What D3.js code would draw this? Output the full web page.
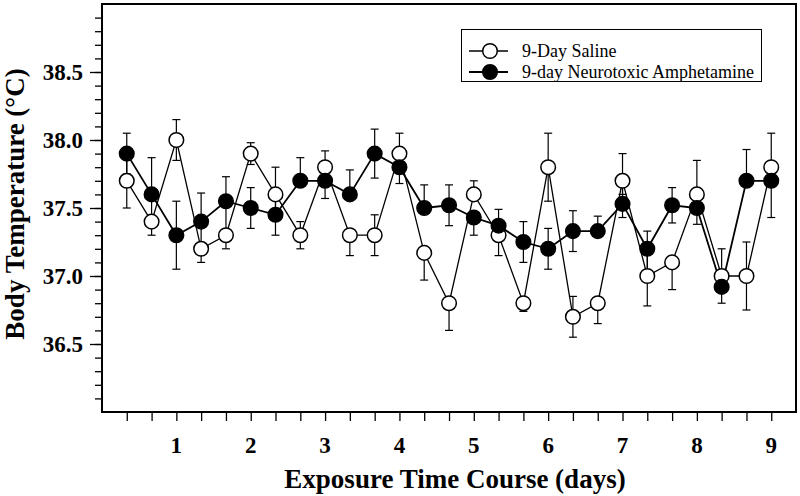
<!DOCTYPE html>
<html>
<head>
<meta charset="utf-8">
<script src="https://cdn.jsdelivr.net/npm/d3@7"></script>
<style>
  body { margin: 0; background: #fff; }
  svg { display: block; font-family: 'Liberation Serif', 'Times New Roman', serif; }
</style>
</head>
<body>
<div id="chart"></div>
<script>
// 数据 (days, mean, error up / down)
let days = [0.333, 0.667, 1, 1.333, 1.667, 2, 2.333, 2.667, 3, 3.333, 3.667, 4, 4.333, 4.667, 5,
  5.333, 5.667, 6, 6.333, 6.667, 7, 7.333, 7.667, 8, 8.333, 8.667, 9]
let salineMean = [37.70, 37.40, 38.00, 37.20, 37.30, 37.90, 37.60, 37.30, 37.80, 37.30, 37.30, 37.90, 37.17, 36.80,
  37.60, 37.30, 36.80, 37.80, 36.70, 36.80, 37.70, 37.00, 37.10, 37.60, 37.00, 37.00, 37.80]
let salineUp = [0.20, 0, 0.15, 0, 0, 0.08, 0.20, 0.10, 0.12, 0, 0.15, 0.15, 0, 0,
  0.10, 0, 0, 0.25, 0.15, 0, 0.20, 0.20, 0, 0.25, 0.20, 0.25, 0.25]
let salineDown = [0.20, 0.10, 0.15, 0.10, 0.10, 0.08, 0.15, 0.10, 0.10, 0.15, 0.15, 0.10, 0.20, 0.20,
  0, 0.15, 0.06, 0.25, 0.15, 0.15, 0.10, 0.22, 0.20, 0, 0, 0.25, 0.10]
let amphMean = [37.90, 37.60, 37.30, 37.40, 37.55, 37.50, 37.45, 37.70, 37.70, 37.60, 37.90, 37.80, 37.50, 37.52,
  37.43, 37.37, 37.25, 37.20, 37.33, 37.33, 37.53, 37.20, 37.52, 37.50, 36.92, 37.70, 37.70]
let amphUp = [0.15, 0.27, 0.25, 0.21, 0.18, 0.15, 0.15, 0.17, 0.10, 0.18, 0.18, 0.10, 0.17, 0.15,
  0, 0.12, 0.15, 0.15, 0.15, 0.11, 0.17, 0.13, 0.13, 0, 0.08, 0.23, 0.10]
let amphDown = [0.15, 0.20, 0.25, 0.20, 0.25, 0.15, 0.15, 0, 0.13, 0, 0.18, 0.12, 0, 0.15,
  0.13, 0.07, 0.15, 0.15, 0.15, 0, 0.10, 0.20, 0.13, 0.12, 0.12, 0, 0.27]
let xTickLabels = [1, 2, 3, 4, 5, 6, 7, 8, 9]
let yTickLabels = [36.5, 37.0, 37.5, 38.0, 38.5]
let seriesNames = ['9-Day Saline', '9-day Neurotoxic Amphetamine']

let width = 800
let height = 496
let margin = {left: 102, top: 4, right: 4, bottom: 84}

let x = d3.scaleLinear().domain([0, 9.333]).range([margin.left, width - margin.right])
let y = d3.scaleLinear().domain([36, 39]).range([height - margin.bottom, margin.top])

let svg = d3.select('#chart')
  .append('svg')
  .attr('width', width)
  .attr('height', height)

// 坐标轴
let xAxis = d3.axisBottom(x)
  .tickValues(days)
  .tickSize(9)
  .tickFormat('')
svg.append('g')
  .attr('transform', 'translate(0,' + y(36) + ')')
  .call(xAxis)
  .call(function (g) { g.select('.domain').remove() })
  .selectAll('line').attr('stroke', '#000').attr('stroke-width', 1.3)

svg.append('g')
  .selectAll('text')
  .data(xTickLabels)
  .enter()
  .append('text')
  .attr('x', function (d) { return x(d) })
  .attr('y', 453)
  .attr('text-anchor', 'middle')
  .attr('font-size', '23px')
  .attr('font-weight', 'bold')
  .text(function (d) { return d })

let minorY = d3.range(1, 30).map(function (i) { return 36 + i / 10 })
svg.append('g')
  .attr('transform', 'translate(' + x(0) + ',0)')
  .call(d3.axisLeft(y).tickValues(minorY).tickSize(7).tickFormat(''))
  .call(function (g) { g.select('.domain').remove() })
  .selectAll('line').attr('stroke', '#000').attr('stroke-width', 1.3)

svg.append('g')
  .attr('transform', 'translate(' + x(0) + ',0)')
  .call(d3.axisLeft(y).tickValues(yTickLabels).tickSize(12).tickPadding(7).tickFormat(d3.format('.1f')))
  .call(function (g) { g.select('.domain').remove() })
  .call(function (g) {
    g.selectAll('line').attr('stroke', '#000').attr('stroke-width', 1.3)
    g.selectAll('text')
      .attr('fill', '#000')
      .attr('font-size', '23px')
      .attr('font-weight', 'bold')
      .attr('font-family', "'Liberation Serif', serif")
  })

// 外框
svg.append('rect')
  .attr('x', x(0))
  .attr('y', y(39))
  .attr('width', x(9.333) - x(0))
  .attr('height', y(36) - y(39))
  .attr('fill', 'none')
  .attr('stroke', '#000')
  .attr('stroke-width', 2)

// 标题
svg.append('text')
  .attr('x', 455)
  .attr('y', 488)
  .attr('text-anchor', 'middle')
  .attr('font-size', '27px')
  .attr('font-weight', 'bold')
  .text('Exposure Time Course (days)')
svg.append('text')
  .attr('transform', 'translate(24,204) rotate(-90)')
  .attr('text-anchor', 'middle')
  .attr('font-size', '27px')
  .attr('font-weight', 'bold')
  .text('Body Temperature (°C)')

// 系列
let series = [
  {name: seriesNames[0], mean: salineMean, up: salineUp, down: salineDown, fill: '#fff', lw: 1.3},
  {name: seriesNames[1], mean: amphMean, up: amphUp, down: amphDown, fill: '#000', lw: 1.8}
]

let line = d3.line()
  .x(function (d, i) { return x(days[i]) })
  .y(function (d) { return y(d) })

series.forEach(function (s) {
  svg.append('path')
    .attr('d', line(s.mean))
    .attr('fill', 'none')
    .attr('stroke', '#000')
    .attr('stroke-width', s.lw)
})

// 误差线
series.forEach(function (s) {
  let g = svg.append('g').attr('stroke', '#000').attr('stroke-width', 1.2)
  s.mean.forEach(function (m, i) {
    let cx = x(days[i])
    let ends = []
    if (s.up[i] > 0) ends.push(m + s.up[i])
    if (s.down[i] > 0) ends.push(m - s.down[i])
    ends.forEach(function (e) {
      g.append('line').attr('x1', cx).attr('x2', cx).attr('y1', y(m)).attr('y2', y(e))
      g.append('line').attr('x1', cx - 4).attr('x2', cx + 4).attr('y1', y(e)).attr('y2', y(e))
    })
  })
})

series.forEach(function (s) {
  svg.append('g')
    .selectAll('circle')
    .data(s.mean)
    .enter()
    .append('circle')
    .attr('cx', function (d, i) { return x(days[i]) })
    .attr('cy', function (d) { return y(d) })
    .attr('r', 7.3)
    .attr('fill', s.fill)
    .attr('stroke', '#000')
    .attr('stroke-width', 1.5)
})

// 图例
let legend = svg.append('g')
legend.append('rect')
  .attr('x', 461.5)
  .attr('y', 29.5)
  .attr('width', 300)
  .attr('height', 52)
  .attr('fill', '#fff')
  .attr('stroke', '#000')
  .attr('stroke-width', 1)
series.forEach(function (s, i) {
  let ly = 51 + i * 21
  legend.append('line')
    .attr('x1', 469).attr('x2', 508).attr('y1', ly).attr('y2', ly)
    .attr('stroke', '#000').attr('stroke-width', s.lw)
  legend.append('circle')
    .attr('cx', 490).attr('cy', ly).attr('r', 7.3)
    .attr('fill', s.fill).attr('stroke', '#000').attr('stroke-width', 1.5)
  legend.append('text')
    .attr('x', 522)
    .attr('y', ly + 6)
    .attr('font-size', '18px')
    .text(s.name)
})
</script>
</body>
</html>
